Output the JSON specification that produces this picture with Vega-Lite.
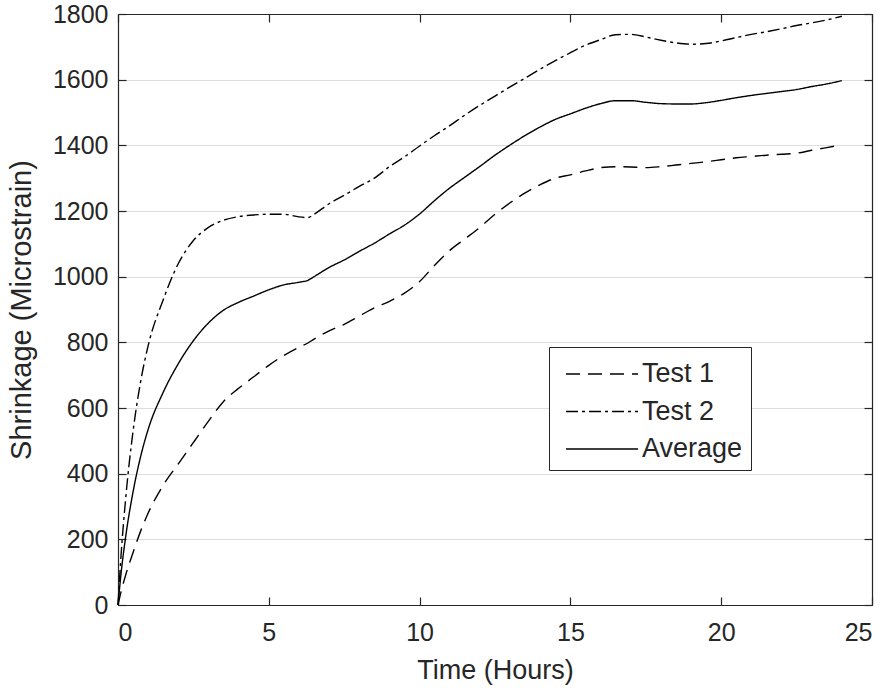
{
  "$schema": "https://vega.github.io/schema/vega-lite/v6.json",
  "width": 754,
  "height": 591,
  "autosize": "none",
  "padding": {"left": 118, "top": 14, "right": 18, "bottom": 83},
  "background": "white",
  "config": {
    "view": {"stroke": null},
    "font": "Liberation Sans",
    "axis": {
      "domainColor": "#262626",
      "domainWidth": 1.2,
      "tickColor": "#262626",
      "tickSize": -8,
      "tickWidth": 1.2,
      "labelFont": "Liberation Sans",
      "labelFontSize": 25,
      "labelColor": "#262626",
      "titleFont": "Liberation Sans",
      "titleFontWeight": "normal",
      "titleColor": "#262626",
      "gridColor": "#dcdcdc",
      "gridWidth": 1
    },
    "legend": {
      "labelFont": "Liberation Sans",
      "labelFontSize": 27,
      "labelColor": "#262626"
    }
  },
  "data": {
    "values": [
      {"t": 0, "Test 1": 0, "Test 2": 0, "Average": 0},
      {"t": 0.1, "Test 1": 40, "Test 2": 150, "Average": 95},
      {"t": 0.25, "Test 1": 90, "Test 2": 320, "Average": 205},
      {"t": 0.5, "Test 1": 160, "Test 2": 530, "Average": 345},
      {"t": 0.75, "Test 1": 225, "Test 2": 680, "Average": 452},
      {"t": 1, "Test 1": 280, "Test 2": 790, "Average": 535},
      {"t": 1.5, "Test 1": 365, "Test 2": 930, "Average": 648},
      {"t": 2, "Test 1": 430, "Test 2": 1040, "Average": 735},
      {"t": 2.5, "Test 1": 495, "Test 2": 1110, "Average": 805},
      {"t": 3, "Test 1": 560, "Test 2": 1150, "Average": 859},
      {"t": 3.5, "Test 1": 620, "Test 2": 1172, "Average": 898},
      {"t": 4, "Test 1": 660, "Test 2": 1183, "Average": 922},
      {"t": 4.5, "Test 1": 695, "Test 2": 1188, "Average": 941},
      {"t": 5, "Test 1": 730, "Test 2": 1190, "Average": 960},
      {"t": 5.5, "Test 1": 760, "Test 2": 1190, "Average": 975},
      {"t": 6, "Test 1": 785, "Test 2": 1182, "Average": 983},
      {"t": 6.3, "Test 1": 798, "Test 2": 1180, "Average": 989},
      {"t": 6.5, "Test 1": 810, "Test 2": 1190, "Average": 1000},
      {"t": 7, "Test 1": 835, "Test 2": 1222, "Average": 1028},
      {"t": 7.5, "Test 1": 855, "Test 2": 1248, "Average": 1051},
      {"t": 8, "Test 1": 880, "Test 2": 1275, "Average": 1077},
      {"t": 8.5, "Test 1": 905, "Test 2": 1300, "Average": 1102},
      {"t": 9, "Test 1": 925, "Test 2": 1335, "Average": 1130},
      {"t": 9.5, "Test 1": 950, "Test 2": 1365, "Average": 1157},
      {"t": 10, "Test 1": 985, "Test 2": 1398, "Average": 1191},
      {"t": 10.5, "Test 1": 1035, "Test 2": 1430, "Average": 1232},
      {"t": 11, "Test 1": 1080, "Test 2": 1460, "Average": 1270},
      {"t": 11.5, "Test 1": 1115, "Test 2": 1492, "Average": 1303},
      {"t": 12, "Test 1": 1150, "Test 2": 1522, "Average": 1336},
      {"t": 12.5, "Test 1": 1190, "Test 2": 1550, "Average": 1370},
      {"t": 13, "Test 1": 1225, "Test 2": 1578, "Average": 1401},
      {"t": 13.5, "Test 1": 1255, "Test 2": 1605, "Average": 1430},
      {"t": 14, "Test 1": 1280, "Test 2": 1632, "Average": 1456},
      {"t": 14.5, "Test 1": 1300, "Test 2": 1658, "Average": 1479},
      {"t": 15, "Test 1": 1310, "Test 2": 1682, "Average": 1496},
      {"t": 15.5, "Test 1": 1322, "Test 2": 1705, "Average": 1513},
      {"t": 16, "Test 1": 1332, "Test 2": 1722, "Average": 1527},
      {"t": 16.5, "Test 1": 1335, "Test 2": 1737, "Average": 1536},
      {"t": 17, "Test 1": 1334, "Test 2": 1738, "Average": 1536},
      {"t": 17.5, "Test 1": 1332, "Test 2": 1730, "Average": 1531},
      {"t": 18, "Test 1": 1335, "Test 2": 1720, "Average": 1527},
      {"t": 18.5, "Test 1": 1340, "Test 2": 1712, "Average": 1526},
      {"t": 19, "Test 1": 1345, "Test 2": 1708, "Average": 1526},
      {"t": 19.5, "Test 1": 1350, "Test 2": 1710, "Average": 1530},
      {"t": 20, "Test 1": 1356, "Test 2": 1718, "Average": 1537},
      {"t": 20.5, "Test 1": 1362, "Test 2": 1728, "Average": 1545},
      {"t": 21, "Test 1": 1366, "Test 2": 1738, "Average": 1552},
      {"t": 21.5, "Test 1": 1370, "Test 2": 1746, "Average": 1558},
      {"t": 22, "Test 1": 1373, "Test 2": 1755, "Average": 1564},
      {"t": 22.5, "Test 1": 1376, "Test 2": 1765, "Average": 1570},
      {"t": 23, "Test 1": 1385, "Test 2": 1773, "Average": 1579},
      {"t": 23.5, "Test 1": 1393, "Test 2": 1782, "Average": 1587},
      {"t": 24, "Test 1": 1402, "Test 2": 1793, "Average": 1597}
    ]
  },
  "transform": [
    {"fold": ["Test 1", "Test 2", "Average"], "as": ["series", "value"]}
  ],
  "layer": [
    {
      "mark": {"type": "line", "color": "black", "strokeWidth": 1.4, "interpolate": "monotone"},
      "encoding": {
        "x": {
          "field": "t", "type": "quantitative",
          "scale": {"domain": [0, 25], "nice": false, "zero": false},
          "axis": {"values": [0, 5, 10, 15, 20, 25], "format": "d", "grid": false, "title": "Time (Hours)", "titleFontSize": 27, "labelPadding": 23, "titlePadding": 12, "orient": "bottom"}
        },
        "y": {
          "field": "value", "type": "quantitative",
          "scale": {"domain": [0, 1800], "nice": false},
          "axis": {"values": [0, 200, 400, 600, 800, 1000, 1200, 1400, 1600, 1800], "format": "d", "grid": true, "title": "Shrinkage (Microstrain)", "titleFontSize": 29, "labelPadding": 18, "titlePadding": 16, "orient": "left"}
        },
        "strokeDash": {
          "field": "series", "type": "nominal",
          "scale": {"domain": ["Test 1", "Test 2", "Average"], "range": [[14, 8], [12, 4, 3, 4], [1, 0]]},
          "legend": {
            "title": null,
            "orient": "none",
            "legendX": 431,
            "legendY": 333,
            "strokeColor": "#262626",
            "fillColor": "white",
            "padding": 8,
            "symbolType": "M-1,0H3",
            "symbolStrokeColor": "black",
            "symbolStrokeWidth": 1.4,
            "symbolSize": 1296,
            "symbolOffset": 8,
            "labelOffset": 39,
            "rowPadding": 5.5
          }
        },
        "detail": {"field": "series"}
      }
    },
    {
      "mark": {"type": "line", "strokeOpacity": 0},
      "encoding": {
        "x": {
          "field": "t", "type": "quantitative",
          "scale": {"domain": [0, 25], "nice": false, "zero": false},
          "axis": {"orient": "top", "values": [0, 5, 10, 15, 20, 25], "labels": false, "title": null, "grid": false}
        },
        "y": {
          "field": "value", "type": "quantitative",
          "scale": {"domain": [0, 1800], "nice": false},
          "axis": {"orient": "right", "values": [0, 200, 400, 600, 800, 1000, 1200, 1400, 1600, 1800], "labels": false, "title": null, "grid": false}
        },
        "detail": {"field": "series"}
      }
    }
  ],
  "resolve": {"axis": {"x": "independent", "y": "independent"}}
}
